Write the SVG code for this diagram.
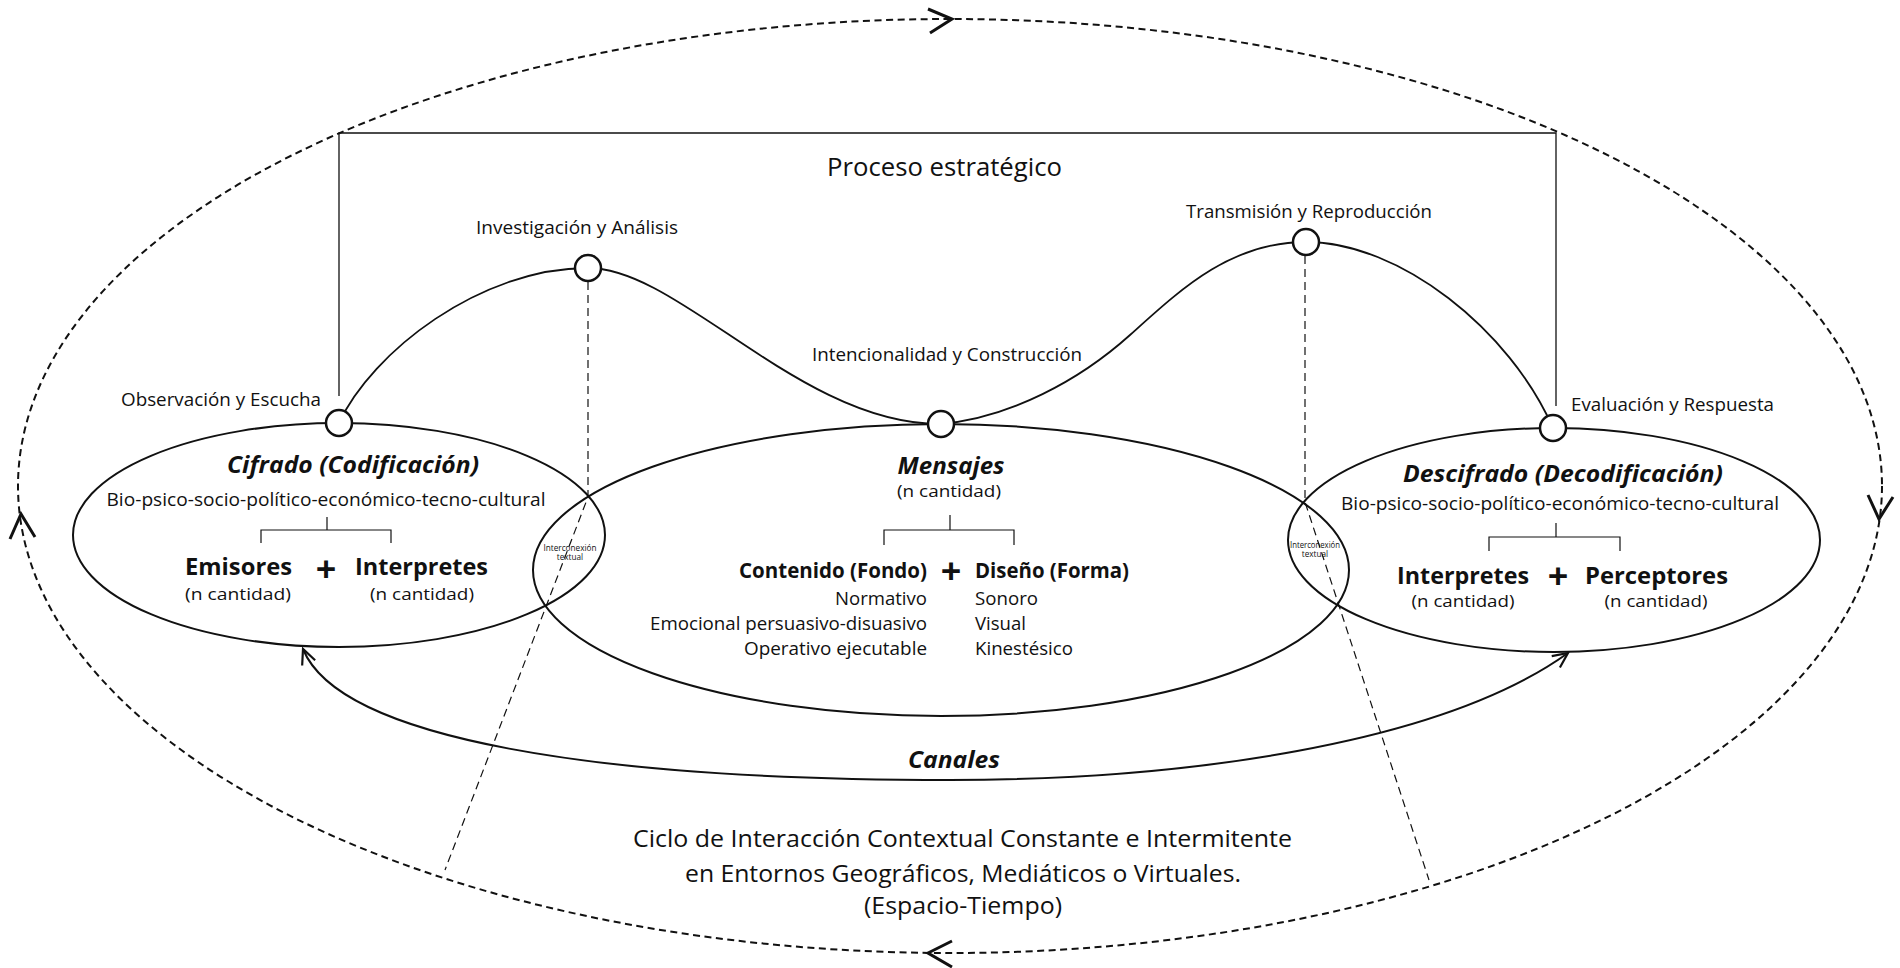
<svg xmlns="http://www.w3.org/2000/svg" width="1900" height="968" viewBox="0 0 1900 968">
  <defs>
    <style>
      text { font-family: "Open Sans", "Noto Sans", "Liberation Sans", sans-serif; fill: #111; }
      .lbl { font-size: 18px; }
      .title { font-size: 25px; }
      .head { font-size: 24px; font-weight: bold; font-style: italic; }
      .who { font-size: 23px; font-weight: bold; }
      .sub { font-size: 17px; }
      .part { font-size: 21px; font-weight: bold; }
      .plus { font-size: 36px; font-weight: bold; }
      .tiny { font-size: 8.2px; }
      .ctx { font-size: 24px; }
      .el { fill: none; stroke: #111; stroke-width: 2; }
      .orbit { fill: none; stroke: #111; stroke-width: 2; stroke-dasharray: 7 4.5; }
      .chev { fill: none; stroke: #111; stroke-width: 3; }
      .wave { fill: none; stroke: #111; stroke-width: 1.8; }
      .frame { fill: none; stroke: #111; stroke-width: 1.3; }
      .link { fill: none; stroke: #111; stroke-width: 1.2; stroke-dasharray: 8 5; }
      .tick { fill: none; stroke: #111; stroke-width: 1.2; }
      .channel { fill: none; stroke: #111; stroke-width: 2; marker-start: url(#open); marker-end: url(#open); }
      .node { fill: #fff; stroke: #111; stroke-width: 2.5; }
    </style>
    <marker id="open" markerUnits="userSpaceOnUse" markerWidth="24" markerHeight="24" refX="0" refY="0" viewBox="-18 -12 24 24" orient="auto-start-reverse">
      <path d="M-15,-7 L0,0 L-15,7" fill="none" stroke="#111" stroke-width="2.2"/>
    </marker>
  </defs>

  <rect width="1900" height="968" fill="#fff"/>

  <!-- outer cycle: context loop, clockwise -->
  <g id="cycle">
    <ellipse class="orbit" cx="950" cy="486" rx="932" ry="467"/>
    <polyline class="chev" points="928,9 952,19 930,33"/>
    <polyline class="chev" points="1868,495 1879,519 1893,497"/>
    <polyline class="chev" points="952,941 928,953 952,967"/>
    <polyline class="chev" points="10,539 21,514 35,537"/>
  </g>

  <!-- the three process ellipses -->
  <g id="cifrado">
    <ellipse class="el" cx="339" cy="535" rx="266" ry="112"/>
    <text class="head" x="353" y="473" text-anchor="middle" textLength="252" lengthAdjust="spacingAndGlyphs">Cifrado (Codificación)</text>
    <text class="lbl" x="326" y="506" text-anchor="middle" textLength="439" lengthAdjust="spacingAndGlyphs">Bio-psico-socio-político-económico-tecno-cultural</text>
    <path class="tick" d="M327,517 V530 M261,543 V530 H391 V543"/>
    <text class="who" x="185" y="575" textLength="107" lengthAdjust="spacingAndGlyphs">Emisores</text>
    <text class="plus" x="326" y="582" text-anchor="middle">+</text>
    <text class="who" x="355" y="575" textLength="133" lengthAdjust="spacingAndGlyphs">Interpretes</text>
    <text class="sub" x="238" y="600" text-anchor="middle" textLength="106" lengthAdjust="spacingAndGlyphs">(n cantidad)</text>
    <text class="sub" x="422" y="600" text-anchor="middle" textLength="104" lengthAdjust="spacingAndGlyphs">(n cantidad)</text>
  </g>

  <g id="mensajes">
    <ellipse class="el" cx="941" cy="570" rx="408" ry="146"/>
    <text class="head" x="951" y="474" text-anchor="middle" textLength="107" lengthAdjust="spacingAndGlyphs">Mensajes</text>
    <text class="sub" x="949" y="497" text-anchor="middle" textLength="104" lengthAdjust="spacingAndGlyphs">(n cantidad)</text>
    <path class="tick" d="M950,515 V530 M884,545 V530 H1014 V545"/>
    <text class="part" x="927" y="578" text-anchor="end" textLength="188" lengthAdjust="spacingAndGlyphs">Contenido (Fondo)</text>
    <text class="plus" x="951" y="584" text-anchor="middle">+</text>
    <text class="part" x="975" y="578" textLength="154" lengthAdjust="spacingAndGlyphs">Diseño (Forma)</text>
    <text class="lbl" x="927" y="605" text-anchor="end" textLength="92" lengthAdjust="spacingAndGlyphs">Normativo</text>
    <text class="lbl" x="927" y="630" text-anchor="end" textLength="277" lengthAdjust="spacingAndGlyphs">Emocional persuasivo-disuasivo</text>
    <text class="lbl" x="927" y="655" text-anchor="end" textLength="183" lengthAdjust="spacingAndGlyphs">Operativo ejecutable</text>
    <text class="lbl" x="975" y="605" textLength="63" lengthAdjust="spacingAndGlyphs">Sonoro</text>
    <text class="lbl" x="975" y="630" textLength="51" lengthAdjust="spacingAndGlyphs">Visual</text>
    <text class="lbl" x="975" y="655" textLength="98" lengthAdjust="spacingAndGlyphs">Kinestésico</text>
  </g>

  <g id="descifrado">
    <ellipse class="el" cx="1554" cy="540" rx="266" ry="112"/>
    <text class="head" x="1563" y="482" text-anchor="middle" textLength="320" lengthAdjust="spacingAndGlyphs">Descifrado (Decodificación)</text>
    <text class="lbl" x="1560" y="510" text-anchor="middle" textLength="438" lengthAdjust="spacingAndGlyphs">Bio-psico-socio-político-económico-tecno-cultural</text>
    <path class="tick" d="M1556,523 V537 M1489,551 V537 H1620 V551"/>
    <text class="who" x="1397" y="584" textLength="132" lengthAdjust="spacingAndGlyphs">Interpretes</text>
    <text class="plus" x="1558" y="589" text-anchor="middle">+</text>
    <text class="who" x="1585" y="584" textLength="143" lengthAdjust="spacingAndGlyphs">Perceptores</text>
    <text class="sub" x="1463" y="607" text-anchor="middle" textLength="103" lengthAdjust="spacingAndGlyphs">(n cantidad)</text>
    <text class="sub" x="1656" y="607" text-anchor="middle" textLength="103" lengthAdjust="spacingAndGlyphs">(n cantidad)</text>
  </g>

  <!-- overlap zones between ellipses -->
  <g id="interconexion-izq">
    <text class="tiny" x="570" y="551" text-anchor="middle" textLength="53" lengthAdjust="spacingAndGlyphs">Interconexión</text>
    <text class="tiny" x="570" y="559.5" text-anchor="middle">textual</text>
  </g>
  <g id="interconexion-der">
    <text class="tiny" x="1315" y="548" text-anchor="middle" textLength="50" lengthAdjust="spacingAndGlyphs">Interconexión</text>
    <text class="tiny" x="1315" y="556.5" text-anchor="middle">textual</text>
  </g>

  <!-- connectors -->
  <g id="connectors">
    <path class="frame" d="M339,396 V133 H1556 V406"/>
    <path class="wave" d="M339,423 C372,352 480,268 588,268 C680,268 800,424 940,424 C1010,418 1080,380 1130,335 S1230,242 1306,242 C1400,242 1510,330 1553,428"/>
    <path class="link" d="M588,282 V497 L445,870"/>
    <path class="link" d="M1305,256 V502 L1429,880"/>
    <path class="channel" d="M303,649 C340,740 600,780 950,780 C1180,780 1440,745 1568,653"/>
  </g>

  <!-- process stages -->
  <g id="node-observacion">
    <circle class="node" cx="339" cy="423" r="13"/>
    <text class="lbl" x="121" y="406" textLength="200" lengthAdjust="spacingAndGlyphs">Observación y Escucha</text>
  </g>
  <g id="node-investigacion">
    <circle class="node" cx="588" cy="268" r="13"/>
    <text class="lbl" x="476" y="234" textLength="202" lengthAdjust="spacingAndGlyphs">Investigación y Análisis</text>
  </g>
  <g id="node-intencionalidad">
    <circle class="node" cx="941" cy="424" r="13"/>
    <text class="lbl" x="812" y="361" textLength="270" lengthAdjust="spacingAndGlyphs">Intencionalidad y Construcción</text>
  </g>
  <g id="node-transmision">
    <circle class="node" cx="1306" cy="242" r="13"/>
    <text class="lbl" x="1186" y="218" textLength="246" lengthAdjust="spacingAndGlyphs">Transmisión y Reproducción</text>
  </g>
  <g id="node-evaluacion">
    <circle class="node" cx="1553" cy="428" r="13"/>
    <text class="lbl" x="1571" y="411" textLength="203" lengthAdjust="spacingAndGlyphs">Evaluación y Respuesta</text>
  </g>

  <g id="titles">
    <text class="title" x="944.5" y="176" text-anchor="middle" textLength="235" lengthAdjust="spacingAndGlyphs">Proceso estratégico</text>
    <text class="head" x="954" y="768" text-anchor="middle" textLength="92" lengthAdjust="spacingAndGlyphs">Canales</text>
    <text class="ctx" x="962.5" y="847" text-anchor="middle" textLength="659" lengthAdjust="spacingAndGlyphs">Ciclo de Interacción Contextual Constante e Intermitente</text>
    <text class="ctx" x="963" y="882" text-anchor="middle" textLength="556" lengthAdjust="spacingAndGlyphs">en Entornos Geográficos, Mediáticos o Virtuales.</text>
    <text class="ctx" x="963" y="914" text-anchor="middle" textLength="198" lengthAdjust="spacingAndGlyphs">(Espacio-Tiempo)</text>
  </g>
</svg>
